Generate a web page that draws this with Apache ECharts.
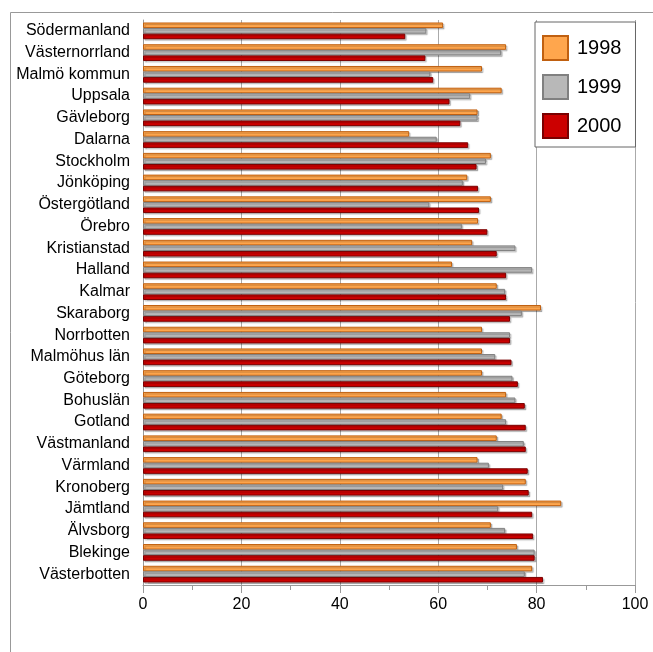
<!DOCTYPE html>
<html>
<head>
<meta charset="utf-8">
<script src="https://cdn.jsdelivr.net/npm/echarts@6/dist/echarts.min.js"></script>
<style>
  html, body { margin: 0; padding: 0; background: #fff; }
  #chart { width: 653px; height: 652px; }
</style>
</head>
<body>
<div id="chart"></div>
<script>
// Län / counties, listed top to bottom
const categories = [
  'Södermanland', 'Västernorrland', 'Malmö kommun', 'Uppsala', 'Gävleborg',
  'Dalarna', 'Stockholm', 'Jönköping', 'Östergötland', 'Örebro',
  'Kristianstad', 'Halland', 'Kalmar', 'Skaraborg', 'Norrbotten',
  'Malmöhus län', 'Göteborg', 'Bohuslän', 'Gotland', 'Västmanland',
  'Värmland', 'Kronoberg', 'Jämtland', 'Älvsborg', 'Blekinge', 'Västerbotten'
];

const values1998 = [
  61, 73.8, 68.9, 72.9, 68, 54.1, 70.7, 65.9, 70.7, 68.1,
  66.9, 62.8, 71.9, 80.9, 68.9, 68.9, 68.9, 73.8, 72.9, 71.9,
  68, 77.8, 85, 70.7, 76, 79.1
];
const values1999 = [
  57.6, 72.8, 58.4, 66.5, 68, 59.7, 69.7, 65, 58.2, 64.8,
  75.7, 79.1, 73.6, 77, 74.6, 71.6, 75.1, 75.7, 73.8, 77.4,
  70.3, 73.2, 72.2, 73.6, 79.6, 77.6
];
const values2000 = [
  53.3, 57.4, 59, 62.3, 64.5, 66.1, 67.8, 68.1, 68.3, 70,
  71.9, 73.8, 73.8, 74.6, 74.6, 74.9, 76.2, 77.6, 77.8, 77.8,
  78.2, 78.4, 79.1, 79.3, 79.6, 81.3
];

const xTicks = { min: 0, max: 100, interval: 20 };

const FONT = '"Liberation Sans", Arial, sans-serif';

function barSeries(name, data, fill, stroke) {
  return {
    name: name,
    type: 'bar',
    data: data,
    barGap: '0%',
    barCategoryGap: '23%',
    itemStyle: {
      color: fill,
      borderColor: stroke,
      borderWidth: 1,
      shadowColor: 'rgba(0,0,0,0.22)',
      shadowOffsetX: 1.5,
      shadowOffsetY: 1.5,
      shadowBlur: 1
    },
    emphasis: { disabled: true }
  };
}

const chart = echarts.init(document.getElementById('chart'), null, { renderer: 'canvas' });

chart.setOption({
  animation: false,
  backgroundColor: '#ffffff',
  textStyle: { fontFamily: FONT },
  graphic: [{
    type: 'rect',
    shape: { x: 10.5, y: 12.5, width: 700, height: 700 },
    style: { fill: 'none', stroke: '#999999', lineWidth: 1 },
    silent: true,
    z: 0
  }],
  grid: { left: 143, right: 18, top: 20, bottom: 67, containLabel: false },
  legend: {
    orient: 'vertical',
    left: 535,
    top: 22,
    width: 101,
    padding: [13, 14, 8, 7],
    itemWidth: 25,
    itemHeight: 24,
    itemGap: 13,
    icon: 'rect',
    backgroundColor: '#ffffff',
    borderColor: '#666666',
    borderWidth: 1,
    textStyle: { fontSize: 20, color: '#000', fontFamily: FONT, padding: [0, 0, 0, 4] },
    data: ['1998', '1999', '2000']
  },
  xAxis: {
    type: 'value',
    min: xTicks.min,
    max: xTicks.max,
    interval: xTicks.interval,
    axisLine: { show: true, lineStyle: { color: '#999999', width: 1 } },
    axisTick: { show: true, length: 8, lineStyle: { color: '#999999' } },
    minorTick: { show: true, splitNumber: 2, length: 5, lineStyle: { color: '#999999' } },
    axisLabel: { fontSize: 16, color: '#000', margin: 12, fontFamily: FONT },
    splitLine: { show: true, lineStyle: { color: '#aaaaaa', width: 1 } }
  },
  yAxis: {
    type: 'category',
    data: categories,
    inverse: true,
    axisLine: { show: true, lineStyle: { color: '#999999', width: 1 } },
    axisTick: { show: false },
    axisLabel: { fontSize: 16, color: '#000', margin: 13, fontFamily: FONT }
  },
  series: [
    barSeries('1998', values1998, '#ffa64d', '#c06010'),
    barSeries('1999', values1999, '#b8b8b8', '#808080'),
    barSeries('2000', values2000, '#cc0000', '#7a0000')
  ]
});
</script>
</body>
</html>
